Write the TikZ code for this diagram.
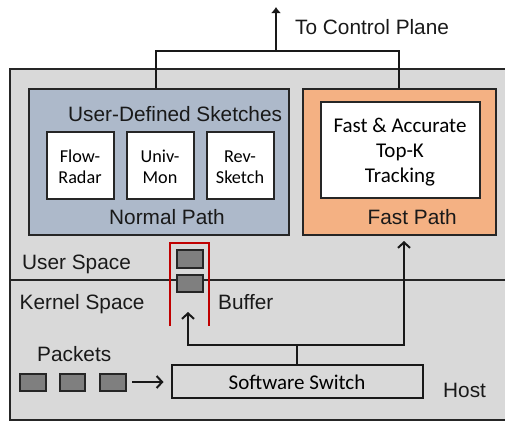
\documentclass[tikz,border=0pt]{standalone}
\usepackage{fontspec}
\setmainfont{Liberation Sans}
\newfontfamily\calib{Carlito}
\definecolor{hostgray}{HTML}{D9D9D9}
\definecolor{normalblue}{HTML}{ADB9CA}
\definecolor{fastorange}{HTML}{F4B183}
\definecolor{pktgray}{HTML}{7F7F7F}
\definecolor{bufred}{HTML}{C00000}
\usetikzlibrary{arrows.meta}
\tikzset{
  region/.style={draw=black!85,line width=2pt},
  panel/.style={draw=black!85,line width=2pt,inner sep=0pt},
  whitebox/.style={panel,fill=white,align=center,font=\calib\fontsize{18.2}{21}\selectfont},
  pkt/.style={draw=black!85,line width=2pt,fill=pktgray,inner sep=0pt},
  wire/.style={draw=black!90,line width=2pt},
  flow/.style={wire,-{Straight Barb[length=5.5pt,width=12pt,line width=2pt]}},
  upflow/.style={wire,-{Latex[length=6pt,width=10pt]}},
  lbl/.style={inner sep=0pt,anchor=base west,text=black!90,font=\fontsize{20.8}{24}\selectfont},
}
\begin{document}
\begin{tikzpicture}[x=1pt,y=-1pt]
\useasboundingbox (0,0) rectangle (505,421);
% Host
\path[fill=hostgray] (10,69) rectangle (505,420);
\draw[region] (505,69) -- (10,69) -- (10,420) -- (505,420);
\coordinate (divL) at (10,280);
\coordinate (divR) at (505,280);
\draw[region] (divL) -- (divR);
% panels
\node[panel,fill=normalblue,minimum width=260pt,minimum height=146pt] (normal) at (159,162) {};
\node[panel,fill=fastorange,minimum width=193pt,minimum height=146pt] (fast) at (399,162) {};
\node[whitebox,minimum width=67pt,minimum height=67pt] (flowr) at (80,165) {\rule{0pt}{15.5pt}Flow-\\Radar};
\node[whitebox,minimum width=67pt,minimum height=67pt] (univ) at (160,165) {\rule{0pt}{15.5pt}Univ-\\Mon};
\node[whitebox,minimum width=67pt,minimum height=67pt] (rev) at (240,165) {\rule{0pt}{15.5pt}Rev-\\Sketch};
\node[whitebox,minimum width=159pt,minimum height=96pt,font=\calib\fontsize{21}{25}\selectfont] (topk) at (400,150) {\rule{0pt}{18pt}Fast \& Accurate\\Top-K\\Tracking};
% top bus
\coordinate (busL) at (156,51);
\coordinate (busR) at (399,51);
\coordinate (busM) at (276,51);
\coordinate (ctrl) at (276,7);
\draw[wire] (normal.north -| busL) -- (busL) -- (busR) -- (fast.north -| busR);
\draw[upflow] (busM) -- (ctrl);
% buffer
\draw[draw=bufred,line width=2pt] (170,326) -- (170,243) -- (209,243) -- (209,326);
\node[pkt,minimum width=26pt,minimum height=18pt] (buf1) at (189.5,259) {};
\node[pkt,minimum width=26pt,minimum height=17pt] (buf2) at (189.5,283.5) {};
% packets
\node[pkt,minimum width=26pt,minimum height=17pt] (p1) at (32.5,382.5) {};
\node[pkt,minimum width=25pt,minimum height=17pt] (p2) at (72.5,382.5) {};
\node[pkt,minimum width=26pt,minimum height=17pt] (p3) at (112.5,382.5) {};
% switch
\node[region,draw=black!90,inner sep=0pt,minimum width=251pt,minimum height=33pt,font=\calib\fontsize{21}{24}\selectfont] (sw) at (297,381.5) {\rule{0pt}{16pt}Software Switch};
\coordinate (pktarrow) at (132,382);
\draw[flow,shorten >=7pt] (pktarrow) -- (sw.west |- pktarrow);
% flows
\coordinate (tee) at (297,345);
\coordinate (bufIn) at (188,312);
\coordinate (fastIn) at (404,241);
\draw[wire] (sw.north -| tee) -- (tee);
\draw[flow] (tee) -| (bufIn);
\draw[flow] (tee) -| (fastIn);
% labels
\node[lbl] (t1) at (295,34) {To Control Plane};
\node[lbl] (t2) at (68,121) {User-Defined Sketches};
\node[lbl] (t3) at (109,224) {Normal Path};
\node[lbl] (t4) at (367.5,224) {Fast Path};
\node[lbl] (t5) at (22,269) {User Space};
\node[lbl] (t6) at (19.5,309) {Kernel Space};
\node[lbl] (t7) at (218,309) {Buffer};
\node[lbl] (t8) at (37,361) {Packets};
\node[lbl] (t9) at (443,397) {Host};
\end{tikzpicture}
\end{document}
